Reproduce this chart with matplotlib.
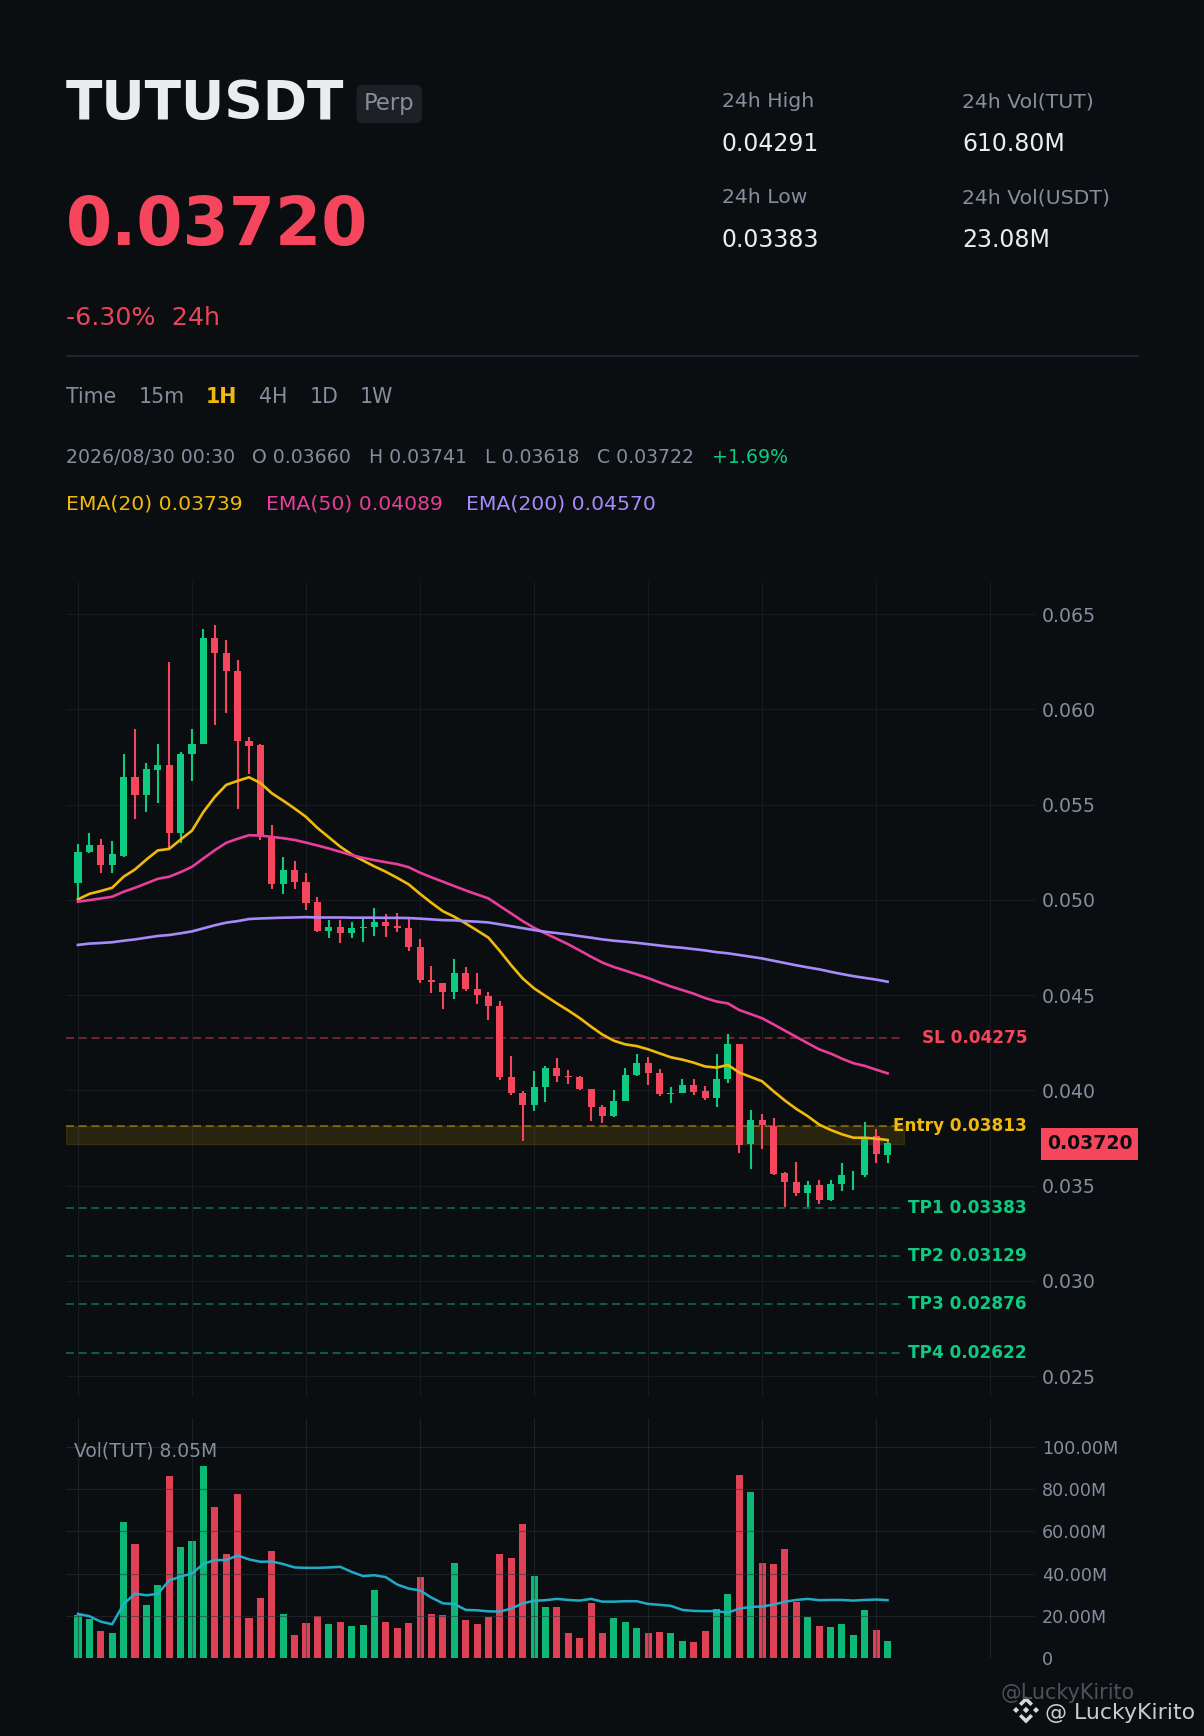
import numpy as np
import matplotlib
matplotlib.use("Agg")
import matplotlib.pyplot as plt
from matplotlib.colors import to_rgba
from matplotlib.patches import FancyBboxPatch, Polygon, Rectangle
from matplotlib.transforms import Affine2D

W, H = 1204, 1736

# prices are in thousandths (52.53 == 0.05253)
opens = [50.86, 52.53, 52.85, 51.80, 52.32, 56.46, 55.52, 56.83, 57.09, 53.53,
         57.67, 58.19, 63.74, 62.96, 62.01, 58.31, 58.14, 53.25, 50.81, 51.54,
         50.91, 49.86, 48.34, 48.55, 48.24, 48.50, 48.55, 48.81, 48.60, 48.50,
         47.50, 45.77, 45.61, 45.14, 46.14, 45.30, 44.93, 44.41, 40.68, 39.84,
         39.21, 40.16, 41.15, 40.73, 40.68, 40.05, 39.11, 38.64, 39.42, 40.79,
         41.42, 40.89, 39.79, 39.84, 40.26, 39.95, 39.58, 40.58, 42.41, 37.17,
         38.43, 38.11, 35.65, 35.17, 34.60, 35.02, 34.23, 35.06, 35.30, 35.53,
         37.58, 36.60]
closes = [52.53, 52.85, 51.80, 52.38, 56.46, 55.52, 56.88, 57.09, 53.53, 57.67,
          58.19, 63.74, 62.96, 62.01, 58.31, 58.09, 53.37, 50.81, 51.54, 50.91,
          49.81, 48.34, 48.55, 48.24, 48.50, 48.55, 48.81, 48.60, 48.50, 47.50,
          45.77, 45.66, 45.14, 46.14, 45.30, 44.98, 44.41, 40.68, 39.84, 39.21,
          40.16, 41.15, 40.73, 40.68, 40.05, 39.11, 38.64, 39.42, 40.79, 41.42,
          40.89, 39.79, 39.84, 40.26, 39.89, 39.58, 40.58, 42.41, 37.11, 38.43,
          38.16, 35.59, 35.17, 34.60, 35.02, 34.23, 35.07, 35.53, 35.30, 37.42,
          36.64, 37.22]
highs = [52.95, 53.53, 53.21, 53.11, 57.67, 58.98, 57.20, 58.19, 62.49, 57.77,
         58.98, 64.21, 64.42, 63.64, 62.59, 58.56, 58.19, 53.95, 52.27, 52.01,
         51.38, 50.17, 48.92, 48.92, 48.81, 48.97, 49.55, 49.23, 49.29, 48.97,
         47.92, 46.50, 45.61, 46.87, 46.45, 46.14, 45.14, 44.67, 41.78, 39.95,
         41.00, 41.26, 41.68, 41.05, 40.73, 40.05, 39.21, 40.00, 41.15, 41.89,
         41.73, 41.10, 40.16, 40.58, 40.58, 40.21, 41.89, 42.94, 42.41, 38.95,
         38.74, 38.53, 35.70, 36.22, 35.23, 35.28, 35.28, 36.16, 35.78, 38.32,
         37.95, 37.41]
lows = [50.02, 52.43, 51.43, 51.43, 52.22, 54.26, 54.63, 55.10, 52.69, 52.99,
        56.25, 58.19, 59.19, 59.81, 54.79, 56.62, 53.16, 50.59, 50.28, 50.54,
        49.44, 48.29, 47.97, 47.71, 47.97, 47.77, 48.08, 48.03, 48.29, 47.30,
        45.61, 45.09, 44.25, 44.77, 45.19, 44.51, 43.67, 40.52, 39.74, 37.32,
        38.90, 39.37, 40.42, 40.31, 40.00, 38.37, 38.27, 38.58, 39.42, 40.73,
        40.26, 39.69, 39.32, 39.84, 39.74, 39.47, 39.11, 40.37, 36.70, 35.86,
        36.90, 35.54, 33.86, 34.44, 33.86, 34.02, 34.18, 34.69, 34.78, 35.43,
        36.16, 36.18]

ema20 = [50.02, 50.31, 50.46, 50.63, 51.21, 51.59, 52.11, 52.59, 52.67, 53.16,
         53.63, 54.61, 55.40, 56.03, 56.24, 56.43, 56.13, 55.59, 55.20, 54.79,
         54.35, 53.77, 53.28, 52.79, 52.38, 52.06, 51.75, 51.47, 51.15, 50.81,
         50.31, 49.84, 49.40, 49.11, 48.76, 48.39, 48.01, 47.31, 46.56, 45.87,
         45.35, 44.95, 44.56, 44.19, 43.79, 43.34, 42.92, 42.60, 42.41, 42.32,
         42.15, 41.94, 41.73, 41.61, 41.45, 41.25, 41.19, 41.33, 40.93, 40.70,
         40.47, 39.95, 39.46, 39.02, 38.64, 38.20, 37.92, 37.69, 37.51, 37.51,
         37.46, 37.39]
ema50 = [49.90, 49.98, 50.07, 50.16, 50.42, 50.63, 50.86, 51.10, 51.21, 51.45,
         51.73, 52.17, 52.60, 52.99, 53.20, 53.39, 53.37, 53.30, 53.23, 53.14,
         53.00, 52.85, 52.69, 52.52, 52.34, 52.20, 52.08, 51.97, 51.87, 51.71,
         51.42, 51.18, 50.95, 50.72, 50.49, 50.28, 50.07, 49.67, 49.28, 48.88,
         48.53, 48.23, 47.95, 47.66, 47.34, 47.01, 46.70, 46.47, 46.28, 46.08,
         45.89, 45.66, 45.45, 45.26, 45.07, 44.84, 44.66, 44.56, 44.21, 44.00,
         43.78, 43.46, 43.13, 42.80, 42.47, 42.15, 41.93, 41.66, 41.42, 41.28,
         41.08, 40.89]
ema200 = [47.63, 47.70, 47.73, 47.77, 47.85, 47.92, 48.01, 48.10, 48.15, 48.24,
          48.34, 48.50, 48.66, 48.80, 48.88, 48.99, 49.02, 49.04, 49.06, 49.07,
          49.09, 49.07, 49.07, 49.07, 49.06, 49.06, 49.06, 49.05, 49.05, 49.04,
          49.01, 48.97, 48.93, 48.92, 48.88, 48.85, 48.81, 48.71, 48.61, 48.51,
          48.41, 48.32, 48.25, 48.18, 48.09, 48.01, 47.92, 47.85, 47.80, 47.74,
          47.67, 47.60, 47.53, 47.48, 47.41, 47.34, 47.25, 47.19, 47.10, 47.01,
          46.92, 46.80, 46.68, 46.56, 46.45, 46.35, 46.22, 46.10, 45.99, 45.90,
          45.81, 45.70]

# volume in millions
volumes = [20.4, 18.5, 12.8, 11.9, 64.6, 54.1, 25.2, 34.7, 86.4, 52.7,
           55.5, 91.1, 71.7, 49.4, 77.8, 19.0, 28.5, 50.8, 20.9, 10.9,
           16.6, 19.9, 16.1, 17.1, 15.2, 15.7, 32.3, 17.1, 14.2, 16.6,
           38.4, 20.9, 20.4, 45.1, 18.0, 16.1, 19.5, 49.4, 47.5, 63.6,
           38.9, 24.2, 24.2, 11.9, 9.5, 26.1, 11.9, 19.0, 17.1, 14.2,
           11.9, 12.3, 11.9, 8.1, 7.6, 12.8, 23.3, 30.4, 86.9, 78.8,
           45.1, 44.6, 51.7, 26.6, 19.5, 15.2, 14.7, 16.1, 10.9, 22.8,
           13.3, 8.1]
vol_ma = [20.9, 19.8, 17.2, 16.0, 25.5, 30.5, 29.7, 30.4, 36.7, 38.6,
          40.0, 44.6, 46.4, 46.4, 48.6, 46.7, 45.6, 45.7, 44.5, 42.9,
          42.7, 42.7, 42.9, 43.2, 40.8, 38.8, 39.2, 38.3, 34.8, 32.9,
          32.0, 28.6, 25.9, 25.6, 22.8, 22.6, 22.1, 22.0, 23.4, 25.9,
          27.1, 27.4, 28.0, 27.5, 27.2, 28.0, 26.7, 26.7, 26.9, 26.9,
          25.6, 25.2, 24.7, 22.8, 22.3, 22.2, 22.2, 21.5, 23.4, 24.2,
          24.4, 25.3, 26.7, 27.5, 28.0, 27.4, 27.5, 27.5, 27.2, 27.5,
          27.7, 27.4]

price_ticks = [0.025, 0.030, 0.035, 0.040, 0.045, 0.050, 0.055, 0.060, 0.065]
price_tick_labels = ["0.025", "0.030", "0.035", "0.040", "0.045", "0.050", "0.055", "0.060", "0.065"]
vol_ticks = [0, 20, 40, 60, 80, 100]
vol_tick_labels = ["0", "20.00M", "40.00M", "60.00M", "80.00M", "100.00M"]

level_names = ["SL", "Entry", "TP1", "TP2", "TP3", "TP4"]
level_values = [0.04275, 0.03813, 0.03383, 0.03129, 0.02876, 0.02622]
last_price = 0.03720

BG = "#0b0e11"
GREEN = "#0ecb81"
RED = "#f6465d"
YELLOW = "#f0b90b"
PINK = "#e83e9b"
PURPLE = "#a78bfa"
CYAN = "#22b3d0"
GREY = "#848e9c"
WHITE = "#eaecef"
level_colors = [RED, YELLOW, GREEN, GREEN, GREEN, GREEN]

plt.rcParams["font.family"] = "DejaVu Sans"

fig = plt.figure(figsize=(W / 100, H / 100), dpi=100, facecolor=BG)
# pixel coords, y going down, for the header and other overlays
px = Affine2D().scale(1, -1).translate(0, H)


def label(x, y, s, size, color=GREY, weight="normal", **kw):
    fig.text(x, y, s, transform=px, fontsize=size, color=color, fontweight=weight,
             va="baseline", **kw)


# header
label(66, 119, "TUTUSDT", 38.4, WHITE, "bold")
fig.add_artist(FancyBboxPatch((356.5, 85), 65.5, 38, boxstyle="round,pad=0,rounding_size=6",
                              transform=px, facecolor="#1e2026", edgecolor="none"))
label(363.5, 110, "Perp", 16.3)
label(66, 245, "0.03720", 47.9, RED, "bold")
label(66, 325, "-6.30%  24h", 18.3, "#e8455a")
fig.add_artist(Rectangle((66, 355), 1073, 1.5, transform=px, facecolor="#1e2530", edgecolor="none"))

stat_cols = [721.5, 721.5, 962, 962]
stat_rows = [107.3, 203.3, 107.3, 203.3]
stat_names = ["24h High", "24h Low", "24h Vol(TUT)", "24h Vol(USDT)"]
stat_values = ["0.04291", "0.03383", "610.80M", "23.08M"]
for x, y, name, val in zip(stat_cols, stat_rows, stat_names, stat_values):
    label(x, y, name, 14.7)
    label(x, y + 43.5, val, 17, WHITE)

tab_x = [66, 138.5, 206, 259, 309.5, 359.5]
tab_names = ["Time", "15m", "1H", "4H", "1D", "1W"]
for x, name in zip(tab_x, tab_names):
    if name == "1H":
        label(x, 403, name, 14.8, YELLOW, "bold")
    else:
        label(x, 403, name, 14.8)

ohlc_x = [65.5, 252, 369, 485, 597, 712]
ohlc_text = ["2026/08/30 00:30", "O 0.03660", "H 0.03741", "L 0.03618", "C 0.03722", "+1.69%"]
for x, s in zip(ohlc_x, ohlc_text):
    label(x, 462.7, s, 13.6, GREEN if s.startswith("+") else GREY)

label(65.5, 510, "EMA(20) 0.03739", 14.7, YELLOW)
label(266, 510, "EMA(50) 0.04089", 14.7, PINK)
label(465.7, 510, "EMA(200) 0.04570", 14.7, PURPLE)

# price panel
ax = fig.add_axes([66 / W, 1 - 1397 / H, 969 / W, 815 / H], facecolor=BG)
vax = fig.add_axes([66 / W, 1 - 1658 / H, 969 / W, 240 / H], facecolor=BG)

x = np.arange(len(opens))
o = np.array(opens) / 1000
c = np.array(closes) / 1000
h = np.array(highs) / 1000
l = np.array(lows) / 1000
is_up = c >= o
colors = [GREEN if u else RED for u in is_up]

ax.vlines(x, l, h, colors=colors, linewidth=1.5, zorder=3)
ax.bar(x, np.abs(c - o), bottom=np.minimum(o, c), width=0.62, color=colors, zorder=4)

ax.plot(x, np.array(ema20) / 1000, color=YELLOW, lw=1.9, zorder=5)
ax.plot(x, np.array(ema50) / 1000, color=PINK, lw=1.9, zorder=5)
ax.plot(x, np.array(ema200) / 1000, color=PURPLE, lw=1.9, zorder=5)

x_left, x_right = -1.05, 83.93
levels_end = 72.45
ax.set_xlim(x_left, x_right)
ax.set_ylim(0.0239, 0.06668)

ax.add_patch(Rectangle((x_left, last_price), levels_end - x_left, level_values[1] - last_price,
                       facecolor=to_rgba(YELLOW, 0.13), edgecolor=to_rgba(YELLOW, 0.13),
                       linewidth=1, zorder=1.5))
for name, val, col in zip(level_names, level_values, level_colors):
    ax.hlines(val, x_left, levels_end, colors=col, alpha=0.42, linewidth=1.44,
              linestyles=(0, (4, 2.35)), zorder=2)
    ax.annotate(f"{name} {val:.5f}", xy=(1027, H - ax.transData.transform((0, val))[1]),
                xycoords=px, ha="right", va="center", fontsize=12.2, fontweight="bold",
                color=col, zorder=6)

# last price tag
tag_y = H - ax.transData.transform((0, last_price))[1]
fig.add_artist(Rectangle((1041, tag_y - 16), 97, 32, transform=px, facecolor=RED, edgecolor="none"))
fig.text(1089.5, tag_y, f"{last_price:.5f}", transform=px, ha="center", va="center",
         fontsize=13.6, fontweight="bold", color=BG)

# volume panel
vax.bar(x, volumes, width=0.62, color=colors, alpha=0.9, zorder=2)
vax.plot(x, vol_ma, color=CYAN, lw=1.8, alpha=0.95, zorder=4)
vax.set_xlim(x_left, x_right)
vax.set_ylim(0, 113.7)
label(74, 1456.5, "Vol(TUT) 8.05M", 13.5)

for a, ticks, labels, size in ((ax, price_ticks, price_tick_labels, 13.6),
                               (vax, vol_ticks, vol_tick_labels, 12.6)):
    a.set_yticks(ticks)
    a.set_yticklabels(labels)
    a.set_xticks(np.arange(0, 81, 10))
    a.yaxis.tick_right()
    a.tick_params(axis="y", length=0, pad=4.8, labelsize=size, labelcolor=GREY)
    a.tick_params(axis="x", length=0, labelbottom=False)
    for s in a.spines.values():
        s.set_visible(False)
ax.grid(True, color="#181c22", linewidth=0.8, zorder=1)
ax.set_axisbelow(True)
vax.grid(True, color="#2b3139", alpha=0.55, linewidth=0.8, zorder=3)
vax.set_axisbelow(False)
vax.yaxis.get_gridlines()[0].set_visible(False)

# watermarks
label(1001, 1699, "@LuckyKirito", 14.9, "#4c515a")
label(1045, 1719, "@ LuckyKirito", 15.8, "#c9cbcf")
logo_x, logo_y = 1026, 1710
logo_shapes = [
    [(0, -13.5), (7, -6.5), (4.5, -4), (0, -8.5), (-4.5, -4), (-7, -6.5)],
    [(0, 13.5), (7, 6.5), (4.5, 4), (0, 8.5), (-4.5, 4), (-7, 6.5)],
    [(0, -3.2), (3.2, 0), (0, 3.2), (-3.2, 0)],
    [(-10, -3), (-7, 0), (-10, 3), (-13, 0)],
    [(10, -3), (13, 0), (10, 3), (7, 0)],
]
for shape in logo_shapes:
    pts = [(logo_x + dx, logo_y + dy) for dx, dy in shape]
    fig.add_artist(Polygon(pts, closed=True, transform=px, facecolor="#d9d9d9", edgecolor="none"))

fig.savefig("out.png", dpi=100, facecolor=BG)
